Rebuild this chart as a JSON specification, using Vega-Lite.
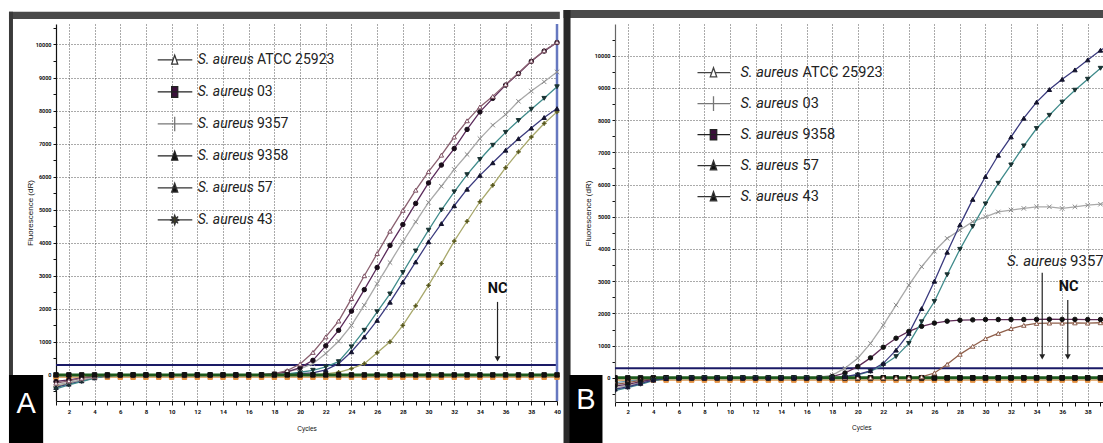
{
  "$schema": "https://vega.github.io/schema/vega-lite/v6.json",
  "padding": {"left": 8, "top": 10, "right": 0, "bottom": 0},
  "background": "white",
  "spacing": 0,
  "config": {
    "view": {"stroke": null},
    "axis": {"grid": true, "tickCount": 100, "gridDash": [1, 2], "gridColor": "#555555", "gridWidth": 1, "domainColor": "#111111", "domainWidth": 1.2, "tickColor": "#111111", "tickSize": 4, "tickWidth": 1, "labelFont": "Roboto, sans-serif", "labelFontSize": 6, "labelFontWeight": "bold", "labelColor": "#111111", "labelOverlap": false, "labelFlush": false, "titleFont": "Liberation Sans, Arial, sans-serif", "titleFontWeight": "normal", "titleColor": "#111111"}
  },
  "datasets": {
    "A": [
      {"cycle":1,"ATCC 25923":-250,"03":-200,"9357":-300,"9358":-420,"57":-380,"43":-350,"NC":0,"NC2":-70},
      {"cycle":2,"ATCC 25923":-180,"03":-150,"9357":-230,"9358":-300,"57":-280,"43":-260,"NC":0,"NC2":-70},
      {"cycle":3,"ATCC 25923":-100,"03":-90,"9357":-150,"9358":-200,"57":-180,"43":-160,"NC":0,"NC2":-70},
      {"cycle":4,"ATCC 25923":-40,"03":-40,"9357":-70,"9358":-100,"57":-90,"43":-80,"NC":0,"NC2":-70},
      {"cycle":5,"ATCC 25923":-10,"03":-10,"9357":-20,"9358":-30,"57":-30,"43":-20,"NC":0,"NC2":-70},
      {"cycle":6,"ATCC 25923":0,"03":0,"9357":0,"9358":-5,"57":0,"43":0,"NC":0,"NC2":-70},
      {"cycle":7,"ATCC 25923":0,"03":0,"9357":0,"9358":0,"57":0,"43":0,"NC":0,"NC2":-70},
      {"cycle":8,"ATCC 25923":0,"03":0,"9357":0,"9358":0,"57":0,"43":0,"NC":0,"NC2":-70},
      {"cycle":9,"ATCC 25923":0,"03":0,"9357":0,"9358":0,"57":0,"43":0,"NC":0,"NC2":-70},
      {"cycle":10,"ATCC 25923":0,"03":0,"9357":0,"9358":0,"57":0,"43":0,"NC":0,"NC2":-70},
      {"cycle":11,"ATCC 25923":0,"03":0,"9357":0,"9358":0,"57":0,"43":0,"NC":0,"NC2":-70},
      {"cycle":12,"ATCC 25923":0,"03":0,"9357":0,"9358":0,"57":0,"43":0,"NC":0,"NC2":-70},
      {"cycle":13,"ATCC 25923":0,"03":0,"9357":0,"9358":0,"57":0,"43":0,"NC":0,"NC2":-70},
      {"cycle":14,"ATCC 25923":0,"03":0,"9357":0,"9358":0,"57":0,"43":0,"NC":0,"NC2":-70},
      {"cycle":15,"ATCC 25923":0,"03":0,"9357":0,"9358":0,"57":0,"43":0,"NC":0,"NC2":-70},
      {"cycle":16,"ATCC 25923":0,"03":0,"9357":0,"9358":0,"57":0,"43":0,"NC":0,"NC2":-70},
      {"cycle":17,"ATCC 25923":10,"03":5,"9357":5,"9358":0,"57":0,"43":0,"NC":0,"NC2":-70},
      {"cycle":18,"ATCC 25923":40,"03":30,"9357":40,"9358":0,"57":0,"43":0,"NC":0,"NC2":-70},
      {"cycle":19,"ATCC 25923":130,"03":90,"9357":100,"9358":30,"57":20,"43":0,"NC":0,"NC2":-70},
      {"cycle":20,"ATCC 25923":330,"03":220,"9357":180,"9358":80,"57":40,"43":0,"NC":0,"NC2":-70},
      {"cycle":21,"ATCC 25923":680,"03":440,"9357":340,"9358":140,"57":60,"43":0,"NC":0,"NC2":-70},
      {"cycle":22,"ATCC 25923":1150,"03":880,"9357":650,"9358":240,"57":150,"43":30,"NC":0,"NC2":-70},
      {"cycle":23,"ATCC 25923":1630,"03":1350,"9357":1020,"9358":400,"57":340,"43":80,"NC":0,"NC2":-70},
      {"cycle":24,"ATCC 25923":2310,"03":1930,"9357":1500,"9358":850,"57":700,"43":190,"NC":0,"NC2":-70},
      {"cycle":25,"ATCC 25923":3000,"03":2580,"9357":2110,"9358":1350,"57":1150,"43":340,"NC":0,"NC2":-70},
      {"cycle":26,"ATCC 25923":3670,"03":3250,"9357":2760,"9358":1910,"57":1650,"43":670,"NC":0,"NC2":-70},
      {"cycle":27,"ATCC 25923":4350,"03":3920,"9357":3400,"9358":2450,"57":2200,"43":1000,"NC":0,"NC2":-70},
      {"cycle":28,"ATCC 25923":4980,"03":4550,"9357":4030,"9358":3100,"57":2810,"43":1500,"NC":0,"NC2":-70},
      {"cycle":29,"ATCC 25923":5590,"03":5190,"9357":4630,"9358":3750,"57":3420,"43":2090,"NC":0,"NC2":-70},
      {"cycle":30,"ATCC 25923":6150,"03":5810,"9357":5220,"9358":4380,"57":4030,"43":2710,"NC":0,"NC2":-70},
      {"cycle":31,"ATCC 25923":6650,"03":6350,"9357":5710,"9358":4990,"57":4580,"43":3370,"NC":0,"NC2":-70},
      {"cycle":32,"ATCC 25923":7200,"03":6850,"9357":6220,"9358":5540,"57":5120,"43":4050,"NC":0,"NC2":-70},
      {"cycle":33,"ATCC 25923":7690,"03":7430,"9357":6670,"9358":6060,"57":5620,"43":4650,"NC":0,"NC2":-70},
      {"cycle":34,"ATCC 25923":8110,"03":7960,"9357":7150,"9358":6520,"57":6040,"43":5240,"NC":0,"NC2":-70},
      {"cycle":35,"ATCC 25923":8430,"03":8370,"9357":7560,"9358":6950,"57":6420,"43":5740,"NC":0,"NC2":-70},
      {"cycle":36,"ATCC 25923":8790,"03":8770,"9357":7880,"9358":7340,"57":6800,"43":6270,"NC":0,"NC2":-70},
      {"cycle":37,"ATCC 25923":9140,"03":9120,"9357":8280,"9358":7700,"57":7150,"43":6750,"NC":0,"NC2":-70},
      {"cycle":38,"ATCC 25923":9500,"03":9490,"9357":8590,"9358":8040,"57":7470,"43":7200,"NC":0,"NC2":-70},
      {"cycle":39,"ATCC 25923":9810,"03":9800,"9357":8870,"9358":8370,"57":7790,"43":7610,"NC":0,"NC2":-70},
      {"cycle":40,"ATCC 25923":10070,"03":10060,"9357":9170,"9358":8720,"57":8060,"43":7960,"NC":0,"NC2":-70}
    ],
    "B": [
      {"cycle":1,"ATCC 25923":-200,"03":-300,"9358":-250,"57":-350,"43":-400,"9357":-150,"NC":0,"NC2":-70},
      {"cycle":2,"ATCC 25923":-150,"03":-250,"9358":-200,"57":-280,"43":-300,"9357":-100,"NC":0,"NC2":-70},
      {"cycle":3,"ATCC 25923":-80,"03":-150,"9358":-120,"57":-170,"43":-200,"9357":-60,"NC":0,"NC2":-70},
      {"cycle":4,"ATCC 25923":-30,"03":-60,"9358":-50,"57":-70,"43":-90,"9357":-20,"NC":0,"NC2":-70},
      {"cycle":5,"ATCC 25923":0,"03":-10,"9358":0,"57":-20,"43":-25,"9357":0,"NC":0,"NC2":-70},
      {"cycle":6,"ATCC 25923":0,"03":0,"9358":0,"57":0,"43":0,"9357":0,"NC":0,"NC2":-70},
      {"cycle":7,"ATCC 25923":0,"03":0,"9358":0,"57":0,"43":0,"9357":0,"NC":0,"NC2":-70},
      {"cycle":8,"ATCC 25923":0,"03":0,"9358":0,"57":0,"43":0,"9357":0,"NC":0,"NC2":-70},
      {"cycle":9,"ATCC 25923":0,"03":0,"9358":0,"57":0,"43":0,"9357":0,"NC":0,"NC2":-70},
      {"cycle":10,"ATCC 25923":0,"03":0,"9358":0,"57":0,"43":0,"9357":0,"NC":0,"NC2":-70},
      {"cycle":11,"ATCC 25923":0,"03":0,"9358":0,"57":0,"43":0,"9357":0,"NC":0,"NC2":-70},
      {"cycle":12,"ATCC 25923":0,"03":0,"9358":0,"57":0,"43":0,"9357":0,"NC":0,"NC2":-70},
      {"cycle":13,"ATCC 25923":0,"03":0,"9358":0,"57":0,"43":0,"9357":0,"NC":0,"NC2":-70},
      {"cycle":14,"ATCC 25923":0,"03":0,"9358":0,"57":0,"43":0,"9357":0,"NC":0,"NC2":-70},
      {"cycle":15,"ATCC 25923":0,"03":0,"9358":0,"57":0,"43":0,"9357":0,"NC":0,"NC2":-70},
      {"cycle":16,"ATCC 25923":0,"03":0,"9358":0,"57":0,"43":0,"9357":0,"NC":0,"NC2":-70},
      {"cycle":17,"ATCC 25923":0,"03":20,"9358":0,"57":0,"43":0,"9357":0,"NC":0,"NC2":-70},
      {"cycle":18,"ATCC 25923":0,"03":80,"9358":40,"57":0,"43":0,"9357":0,"NC":0,"NC2":-70},
      {"cycle":19,"ATCC 25923":0,"03":300,"9358":150,"57":40,"43":30,"9357":0,"NC":0,"NC2":-70},
      {"cycle":20,"ATCC 25923":0,"03":610,"9358":350,"57":110,"43":90,"9357":0,"NC":0,"NC2":-70},
      {"cycle":21,"ATCC 25923":0,"03":1070,"9358":620,"57":220,"43":200,"9357":0,"NC":0,"NC2":-70},
      {"cycle":22,"ATCC 25923":0,"03":1640,"9358":950,"57":450,"43":400,"9357":0,"NC":0,"NC2":-70},
      {"cycle":23,"ATCC 25923":0,"03":2260,"9358":1230,"57":860,"43":660,"9357":0,"NC":0,"NC2":-70},
      {"cycle":24,"ATCC 25923":0,"03":2880,"9358":1440,"57":1380,"43":1070,"9357":0,"NC":0,"NC2":-70},
      {"cycle":25,"ATCC 25923":30,"03":3450,"9358":1600,"57":2150,"43":1740,"9357":0,"NC":0,"NC2":-70},
      {"cycle":26,"ATCC 25923":150,"03":3930,"9358":1700,"57":3000,"43":2370,"9357":0,"NC":0,"NC2":-70},
      {"cycle":27,"ATCC 25923":420,"03":4330,"9358":1760,"57":3900,"43":3200,"9357":0,"NC":0,"NC2":-70},
      {"cycle":28,"ATCC 25923":730,"03":4590,"9358":1790,"57":4750,"43":3990,"9357":0,"NC":0,"NC2":-70},
      {"cycle":29,"ATCC 25923":980,"03":4850,"9358":1800,"57":5540,"43":4700,"9357":0,"NC":0,"NC2":-70},
      {"cycle":30,"ATCC 25923":1220,"03":5000,"9358":1810,"57":6250,"43":5400,"9357":0,"NC":0,"NC2":-70},
      {"cycle":31,"ATCC 25923":1380,"03":5150,"9358":1810,"57":6910,"43":6040,"9357":0,"NC":0,"NC2":-70},
      {"cycle":32,"ATCC 25923":1530,"03":5210,"9358":1810,"57":7480,"43":6610,"9357":0,"NC":0,"NC2":-70},
      {"cycle":33,"ATCC 25923":1630,"03":5260,"9358":1810,"57":8060,"43":7200,"9357":0,"NC":0,"NC2":-70},
      {"cycle":34,"ATCC 25923":1690,"03":5310,"9358":1815,"57":8560,"43":7740,"9357":0,"NC":0,"NC2":-70},
      {"cycle":35,"ATCC 25923":1700,"03":5310,"9358":1820,"57":8950,"43":8150,"9357":0,"NC":0,"NC2":-70},
      {"cycle":36,"ATCC 25923":1700,"03":5260,"9358":1815,"57":9270,"43":8560,"9357":0,"NC":0,"NC2":-70},
      {"cycle":37,"ATCC 25923":1705,"03":5310,"9358":1815,"57":9560,"43":8930,"9357":0,"NC":0,"NC2":-70},
      {"cycle":38,"ATCC 25923":1700,"03":5360,"9358":1810,"57":9870,"43":9270,"9357":0,"NC":0,"NC2":-70},
      {"cycle":39,"ATCC 25923":1710,"03":5390,"9358":1810,"57":10170,"43":9610,"9357":0,"NC":0,"NC2":-70},
      {"cycle":40,"ATCC 25923":1710,"03":5400,"9358":1810,"57":10420,"43":9900,"9357":0,"NC":0,"NC2":-70}
    ]
  },
  "hconcat": [
    {
      "width": 501,
      "height": 377,
      "data": {"name": "A"},
      "transform": [{"fold": ["NC2", "43", "57", "9358", "9357", "03", "ATCC 25923", "NC"], "as": ["series", "v"]}],
      "resolve": {"scale": {"shape": "independent", "fill": "independent", "stroke": "independent"}},
      "layer": [
        {"data": {"values": [{}]}, "mark": {"type": "rect", "color": "#4a4a4a"}, "encoding": {"x": {"datum": -2.66}, "x2": {"datum": 40.22}, "y": {"datum": 10987}, "y2": {"datum": 10775}}},
        {"data": {"values": [{}]}, "mark": {"type": "rect", "color": "#3a3a3a"}, "encoding": {"x": {"datum": -2.66}, "x2": {"datum": -2.35}, "y": {"datum": 10987}, "y2": {"datum": -2119}}},
        {"data": {"values": [{}]}, "mark": {"type": "rect", "color": "#000000"}, "encoding": {"x": {"datum": -2.66}, "x2": {"datum": 0.0}, "y": {"datum": 0}, "y2": {"datum": -2119}}},
        {"data": {"values": [{}]}, "mark": {"type": "text", "text": "A", "color": "white", "font": "Liberation Sans, Arial, sans-serif", "fontSize": 29, "align": "center", "baseline": "middle"}, "encoding": {"x": {"datum": -1.33}, "y": {"datum": -869}}},
        {"data": {"values": [{}]}, "mark": {"type": "rule", "color": "#1a1a66", "strokeWidth": 2}, "encoding": {"y": {"datum": 300}}},
        {"data": {"values": [{}]}, "mark": {"type": "rule", "color": "#6678c0", "strokeWidth": 2.5}, "encoding": {"x": {"datum": 40}}},
        {
          "transform": [{"filter": "datum.series !== 'NC'"}],
          "mark": {"type": "line", "strokeWidth": 1.3},
          "encoding": {
            "x": {"field": "cycle", "type": "quantitative", "scale": {"domain": [1, 40], "nice": false, "zero": false},
              "axis": {"values": [1,2,3,4,5,6,7,8,9,10,11,12,13,14,15,16,17,18,19,20,21,22,23,24,25,26,27,28,29,30,31,32,33,34,35,36,37,38,39,40],
                "tickCount": 100, "format": "d",
                "labelExpr": "datum.value % 2 === 0 ? datum.label : ''",
                "gridOpacity": {"condition": {"test": "datum.value % 2 !== 0", "value": 0}, "value": 1},
                "labelPadding": 3, "title": "Cycles", "titleFontSize": 6.5, "titlePadding": 11}},
            "y": {"field": "v", "type": "quantitative", "scale": {"domain": [-790, 10620], "nice": false, "zero": false},
              "axis": {"values": [-500,0,500,1000,1500,2000,2500,3000,3500,4000,4500,5000,5500,6000,6500,7000,7500,8000,8500,9000,9500,10000,10500],
                "tickCount": 100,
                "format": "d",
                "labelExpr": "datum.value >= 0 && datum.value % 1000 === 0 ? datum.label : ''",
                "gridOpacity": {"condition": {"test": "datum.value < 0 || datum.value % 1000 !== 0", "value": 0}, "value": 1},
                "labelFontSize": 5.5, "tickSize": 3, "labelPadding": 2, "title": "Fluorescence (dR)", "titleFontSize": 8, "titlePadding": 1}},
            "color": {"field": "series", "type": "nominal", "legend": null,
              "scale": {"domain": ["ATCC 25923", "03", "9357", "9358", "57", "43", "NC", "NC2"], "range": ["#8a6070", "#5b2b5b", "#a9a9a9", "#3f8b8b", "#3a3a7e", "#a8a86c", "#1d5a1d", "#d9924a"]}}
          }
        },
        {
          "transform": [{"filter": "datum.series === 'NC'"}],
          "mark": {"type": "line", "strokeWidth": 3, "color": "#1d5a1d"},
          "encoding": {"x": {"field": "cycle", "type": "quantitative"}, "y": {"field": "v", "type": "quantitative"}}
        },
        {
          "mark": {"type": "point", "filled": true, "opacity": 1, "size": 20, "strokeWidth": 1},
          "encoding": {
            "x": {"field": "cycle", "type": "quantitative"},
            "y": {"field": "v", "type": "quantitative"},
            "shape": {"field": "series", "type": "nominal", "legend": null,
              "scale": {"domain": ["ATCC 25923", "03", "9357", "9358", "57", "43", "NC", "NC2"], "range": ["triangle-up", "circle", "M-1,-1L1,1M-1,1L1,-1", "triangle-down", "triangle-up", "M0,-1L0.3,-0.3L1,0L0.3,0.3L0,1L-0.3,0.3L-1,0L-0.3,-0.3Z", "square", "square"]}},
            "fill": {"field": "series", "type": "nominal", "legend": null,
              "scale": {"domain": ["ATCC 25923", "03", "9357", "9358", "57", "43", "NC", "NC2"], "range": ["#ffffff", "#1a0d1a", "#999999", "#1a3333", "#14142e", "#4d4d1a", "#111111", "#e39040"]}},
            "stroke": {"field": "series", "type": "nominal", "legend": null,
              "scale": {"domain": ["ATCC 25923", "03", "9357", "9358", "57", "43", "NC", "NC2"], "range": ["#7d4f61", "#1a0d1a", "#8c8c8c", "#1a3333", "#14142e", "#66662a", "#111111", "#e39040"]}}
          }
        },
        {
          "transform": [{"filter": "datum.cycle < 0"}],
          "mark": {"type": "point", "filled": true, "opacity": 1, "strokeWidth": 1.3},
          "encoding": {
            "x": {"field": "cycle", "type": "quantitative"},
            "y": {"field": "v", "type": "quantitative"},
            "shape": {"field": "series", "type": "nominal",
              "scale": {"domain": ["ATCC 25923", "03", "9357", "9358", "57", "43"], "range": [
                "M-1.1,0H-0.12M0.12,0H1.1M0,-0.3L0.19,0.26L-0.19,0.26Z",
                "M-1.1,0H1.1M-0.19,-0.33H0.19V0.33H-0.19Z",
                "M-1.1,0H1.1M0,-0.45V0.45",
                "M-1.1,0H1.1M0,-0.3L0.19,0.26L-0.19,0.26Z",
                "M-1.1,0H1.1M0,-0.3L0.19,0.26L-0.19,0.26Z",
                "M-1.1,0H1.1M0,-0.3L0.07,-0.1L0.21,-0.21L0.1,-0.07L0.3,0L0.1,0.07L0.21,0.21L0.07,0.1L0,0.3L-0.07,0.1L-0.21,0.21L-0.1,0.07L-0.3,0L-0.1,-0.07L-0.21,-0.21L-0.07,-0.1Z"]},
              "legend": {"orient": "none", "legendX": 101.7, "legendY": 20.25, "title": null, "labelExpr": "'S. aureus'", "labelFont": "Roboto, sans-serif", "labelFontSize": 14, "labelFontStyle": "italic", "labelColor": "#222222", "symbolSize": 1024, "clipHeight": 31.4, "rowPadding": 0, "labelOffset": 6, "padding": 0, "symbolStrokeWidth": 1.3}},
            "fill": {"field": "series", "type": "nominal",
              "scale": {"domain": ["ATCC 25923", "03", "9357", "9358", "57", "43"], "range": ["#ffffff", "#3b0f3b", "#888888", "#111111", "#111111", "#4a4a14"]},
              "legend": {"orient": "none", "legendX": 101.7, "legendY": 20.25, "title": null, "labelExpr": "'S. aureus'", "labelFont": "Roboto, sans-serif", "labelFontSize": 14, "labelFontStyle": "italic", "labelColor": "#222222", "symbolSize": 1024, "clipHeight": 31.4, "rowPadding": 0, "labelOffset": 6, "padding": 0, "symbolStrokeWidth": 1.3}},
            "stroke": {"field": "series", "type": "nominal",
              "scale": {"domain": ["ATCC 25923", "03", "9357", "9358", "57", "43"], "range": ["#333333", "#222222", "#777777", "#222222", "#333333", "#333333"]},
              "legend": {"orient": "none", "legendX": 101.7, "legendY": 20.25, "title": null, "labelExpr": "'S. aureus'", "labelFont": "Roboto, sans-serif", "labelFontSize": 14, "labelFontStyle": "italic", "labelColor": "#222222", "symbolSize": 1024, "clipHeight": 31.4, "rowPadding": 0, "labelOffset": 6, "padding": 0, "symbolStrokeWidth": 1.3}}
          }
        },
        {
          "transform": [{"filter": "datum.cycle < 0"}],
          "mark": {"type": "line"},
          "encoding": {
            "x": {"field": "cycle", "type": "quantitative"},
            "y": {"field": "v", "type": "quantitative"},
            "strokeDash": {"field": "series", "type": "nominal",
              "scale": {"domain": ["ATCC 25923", "03", "9357", "9358", "57", "43"]},
              "legend": {"orient": "none", "legendX": 187, "legendY": 20.25, "title": null, "labelFont": "Roboto, sans-serif", "labelFontSize": 14, "labelFontStyle": "normal", "labelColor": "#222222", "symbolSize": 1, "symbolOpacity": 0, "symbolStrokeWidth": 0, "clipHeight": 31.4, "rowPadding": 0, "labelOffset": 0, "padding": 0}}
          }
        },
        {"data": {"values": [{}]}, "mark": {"type": "text", "text": "NC", "font": "Roboto, sans-serif", "fontSize": 14.5, "fontWeight": "bold", "color": "#111111", "align": "center", "baseline": "middle"}, "encoding": {"x": {"datum": 35.37}, "y": {"datum": 2612}}},
        {"data": {"values": [{}]}, "mark": {"type": "rule", "color": "#222222", "strokeWidth": 1.2}, "encoding": {"x": {"datum": 35.37}, "y": {"datum": 2209}, "y2": {"datum": 560}}},
        {"data": {"values": [{}]}, "mark": {"type": "point", "shape": "triangle-down", "filled": true, "opacity": 1, "size": 35, "color": "#222222"}, "encoding": {"x": {"datum": 35.37}, "y": {"datum": 484}}}
      ]
    },
    {
      "width": 492.5,
      "height": 378,
      "data": {"name": "B"},
      "transform": [{"fold": ["NC2", "9357", "NC", "ATCC 25923", "03", "9358", "43", "57"], "as": ["series", "v"]}],
      "resolve": {"scale": {"shape": "independent", "fill": "independent", "stroke": "independent"}},
      "layer": [
        {"data": {"values": [{}]}, "mark": {"type": "rect", "color": "#4a4a4a"}, "encoding": {"x": {"datum": -3.03}, "x2": {"datum": 39.55}, "y": {"datum": 11418}, "y2": {"datum": 11170}}},
        {"data": {"values": [{}]}, "mark": {"type": "rect", "color": "#2a2a2a"}, "encoding": {"x": {"datum": -3.03}, "x2": {"datum": -2.48}, "y": {"datum": 11418}, "y2": {"datum": -2020}}},
        {"data": {"values": [{}]}, "mark": {"type": "rect", "color": "#000000"}, "encoding": {"x": {"datum": -2.56}, "x2": {"datum": 0.02}, "y": {"datum": 90}, "y2": {"datum": -2020}}},
        {"data": {"values": [{}]}, "mark": {"type": "text", "text": "B", "color": "white", "font": "Liberation Sans, Arial, sans-serif", "fontSize": 29, "align": "center", "baseline": "middle"}, "encoding": {"x": {"datum": -1.27}, "y": {"datum": -686}}},
        {"data": {"values": [{}]}, "mark": {"type": "rule", "color": "#1a1a66", "strokeWidth": 2}, "encoding": {"y": {"datum": 300}}},
        {
          "transform": [{"filter": "datum.series !== 'NC'"}],
          "mark": {"type": "line", "strokeWidth": 1.3, "clip": true},
          "encoding": {
            "x": {"field": "cycle", "type": "quantitative", "scale": {"domain": [1, 39.55], "nice": false, "zero": false},
              "axis": {"values": [1,2,3,4,5,6,7,8,9,10,11,12,13,14,15,16,17,18,19,20,21,22,23,24,25,26,27,28,29,30,31,32,33,34,35,36,37,38,39],
                "tickCount": 100, "format": "d",
                "labelExpr": "datum.value % 2 === 0 ? datum.label : ''",
                "gridOpacity": {"condition": {"test": "datum.value % 2 !== 0", "value": 0}, "value": 1},
                "labelPadding": 2, "title": "Cycles", "titleFontSize": 6.5, "titlePadding": 10}},
            "y": {"field": "v", "type": "quantitative", "scale": {"domain": [-750, 10985], "nice": false, "zero": false},
              "axis": {"values": [-500,0,500,1000,1500,2000,2500,3000,3500,4000,4500,5000,5500,6000,6500,7000,7500,8000,8500,9000,9500,10000,10500],
                "tickCount": 100,
                "format": "d",
                "labelExpr": "datum.value >= 0 && datum.value % 1000 === 0 ? datum.label : ''",
                "gridOpacity": {"condition": {"test": "datum.value < 0 || datum.value % 1000 !== 0", "value": 0}, "value": 1},
                "labelFontSize": 5.5, "domainColor": "#666666", "tickSize": 3, "labelPadding": 2, "title": "Fluorescence (dR)", "titleFontSize": 8, "titlePadding": 2}},
            "color": {"field": "series", "type": "nominal", "legend": null,
              "scale": {"domain": ["ATCC 25923", "03", "9358", "57", "43", "9357", "NC", "NC2"], "range": ["#8f5f4a", "#a9a9a9", "#5d2a55", "#3a3a7e", "#3f8b8b", "#6a9ab0", "#1d5a1d", "#d9924a"]}}
          }
        },
        {
          "transform": [{"filter": "datum.series === 'NC'"}],
          "mark": {"type": "line", "strokeWidth": 3, "color": "#1d5a1d", "clip": true},
          "encoding": {"x": {"field": "cycle", "type": "quantitative"}, "y": {"field": "v", "type": "quantitative"}}
        },
        {
          "mark": {"type": "point", "filled": true, "opacity": 1, "size": 20, "strokeWidth": 1, "clip": true},
          "encoding": {
            "x": {"field": "cycle", "type": "quantitative"},
            "y": {"field": "v", "type": "quantitative"},
            "shape": {"field": "series", "type": "nominal", "legend": null,
              "scale": {"domain": ["ATCC 25923", "03", "9358", "57", "43", "9357", "NC", "NC2"], "range": ["triangle-up", "M-1,-1L1,1M-1,1L1,-1", "circle", "triangle-up", "triangle-down", "square", "square", "square"]}},
            "fill": {"field": "series", "type": "nominal", "legend": null,
              "scale": {"domain": ["ATCC 25923", "03", "9358", "57", "43", "9357", "NC", "NC2"], "range": ["#ffffff", "#999999", "#111111", "#14142e", "#1a3333", "#111111", "#111111", "#e39040"]}},
            "stroke": {"field": "series", "type": "nominal", "legend": null,
              "scale": {"domain": ["ATCC 25923", "03", "9358", "57", "43", "9357", "NC", "NC2"], "range": ["#8a5a48", "#8c8c8c", "#111111", "#14142e", "#1a3333", "#111111", "#111111", "#e39040"]}}
          }
        },
        {
          "transform": [{"filter": "datum.cycle < 0"}],
          "mark": {"type": "point", "filled": true, "opacity": 1, "strokeWidth": 1.3},
          "encoding": {
            "x": {"field": "cycle", "type": "quantitative"},
            "y": {"field": "v", "type": "quantitative"},
            "shape": {"field": "series", "type": "nominal",
              "scale": {"domain": ["ATCC 25923", "03", "9358", "57", "43"], "range": [
                "M-1.08,0H-0.12M0.12,0H1.08M0,-0.32L0.21,0.27L-0.21,0.27Z",
                "M-1.08,0H1.08M0,-0.48V0.48",
                "M-1.08,0H1.08M-0.21,-0.33H0.21V0.33H-0.21Z",
                "M-1.08,0H1.08M0,-0.32L0.21,0.27L-0.21,0.27Z",
                "M-1.08,0H1.08M0,-0.32L0.21,0.27L-0.21,0.27Z"]},
              "legend": {"orient": "none", "legendX": 82.5, "legendY": 33.4, "title": null, "labelExpr": "'S. aureus'", "labelFont": "Roboto, sans-serif", "labelFontSize": 14.5, "labelFontStyle": "italic", "labelColor": "#222222", "symbolSize": 936, "clipHeight": 30.6, "rowPadding": 0, "labelOffset": 11, "padding": 0, "symbolStrokeWidth": 1.3}},
            "fill": {"field": "series", "type": "nominal",
              "scale": {"domain": ["ATCC 25923", "03", "9358", "57", "43"], "range": ["#ffffff", "#777777", "#3b0f3b", "#111111", "#111111"]},
              "legend": {"orient": "none", "legendX": 82.5, "legendY": 33.4, "title": null, "labelExpr": "'S. aureus'", "labelFont": "Roboto, sans-serif", "labelFontSize": 14.5, "labelFontStyle": "italic", "labelColor": "#222222", "symbolSize": 936, "clipHeight": 30.6, "rowPadding": 0, "labelOffset": 11, "padding": 0, "symbolStrokeWidth": 1.3}},
            "stroke": {"field": "series", "type": "nominal",
              "scale": {"domain": ["ATCC 25923", "03", "9358", "57", "43"], "range": ["#444444", "#777777", "#222222", "#333333", "#333333"]},
              "legend": {"orient": "none", "legendX": 82.5, "legendY": 33.4, "title": null, "labelExpr": "'S. aureus'", "labelFont": "Roboto, sans-serif", "labelFontSize": 14.5, "labelFontStyle": "italic", "labelColor": "#222222", "symbolSize": 936, "clipHeight": 30.6, "rowPadding": 0, "labelOffset": 11, "padding": 0, "symbolStrokeWidth": 1.3}}
          }
        },
        {
          "transform": [{"filter": "datum.cycle < 0"}],
          "mark": {"type": "line"},
          "encoding": {
            "x": {"field": "cycle", "type": "quantitative"},
            "y": {"field": "v", "type": "quantitative"},
            "strokeDash": {"field": "series", "type": "nominal",
              "scale": {"domain": ["ATCC 25923", "03", "9358", "57", "43"]},
              "legend": {"orient": "none", "legendX": 173, "legendY": 33.4, "title": null, "labelFont": "Roboto, sans-serif", "labelFontSize": 14.5, "labelFontStyle": "normal", "labelColor": "#222222", "symbolSize": 1, "symbolOpacity": 0, "symbolStrokeWidth": 0, "clipHeight": 30.6, "rowPadding": 0, "labelOffset": 0, "padding": 0}}
          }
        },
        {"data": {"values": [{}]}, "mark": {"type": "text", "text": "S. aureus", "font": "Roboto, sans-serif", "fontSize": 15, "fontStyle": "italic", "color": "#222222", "align": "right", "baseline": "middle"}, "encoding": {"x": {"datum": 36.39}, "y": {"datum": 3637}}},
        {"data": {"values": [{}]}, "mark": {"type": "text", "text": "9357", "font": "Roboto, sans-serif", "fontSize": 15, "color": "#222222", "align": "left", "baseline": "middle"}, "encoding": {"x": {"datum": 36.62}, "y": {"datum": 3637}}},
        {"data": {"values": [{}]}, "mark": {"type": "text", "text": "NC", "font": "Roboto, sans-serif", "fontSize": 14.5, "fontWeight": "bold", "color": "#111111", "align": "center", "baseline": "middle"}, "encoding": {"x": {"datum": 36.5}, "y": {"datum": 2831}}},
        {"data": {"values": [{}]}, "mark": {"type": "rule", "color": "#222222", "strokeWidth": 1.2}, "encoding": {"x": {"datum": 34.44}, "y": {"datum": 3265}, "y2": {"datum": 720}}},
        {"data": {"values": [{}]}, "mark": {"type": "rule", "color": "#222222", "strokeWidth": 1.2}, "encoding": {"x": {"datum": 36.44}, "y": {"datum": 2418}, "y2": {"datum": 720}}},
        {"data": {"values": [{}]}, "mark": {"type": "point", "shape": "triangle-down", "filled": true, "opacity": 1, "size": 35, "color": "#222222"}, "encoding": {"x": {"datum": 34.44}, "y": {"datum": 649}}},
        {"data": {"values": [{}]}, "mark": {"type": "point", "shape": "triangle-down", "filled": true, "opacity": 1, "size": 35, "color": "#222222"}, "encoding": {"x": {"datum": 36.44}, "y": {"datum": 649}}}
      ]
    }
  ],
  "resolve": {
    "scale": {"color": "independent", "shape": "independent", "fill": "independent", "stroke": "independent", "strokeDash": "independent"},
    "legend": {"color": "independent", "shape": "independent", "fill": "independent", "stroke": "independent", "strokeDash": "independent"}
  }
}
